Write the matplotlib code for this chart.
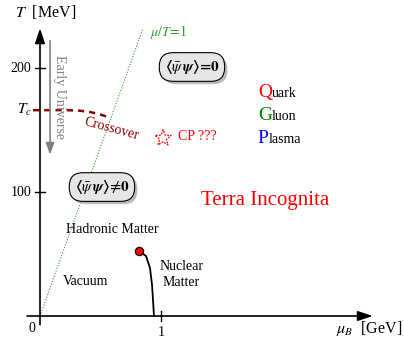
import matplotlib
matplotlib.use("Agg")
import matplotlib.pyplot as plt
import matplotlib.patheffects as pe
import numpy as np

plt.rcParams['font.family'] = ['Liberation Serif', 'DejaVu Serif']
plt.rcParams['mathtext.fontset'] = 'stix'

# Phase-diagram data (mu_B in GeV, T in MeV)
T_ticks = [100, 200]
mu_ticks = [0, 1]
Tc = 166
crossover_mu = [-0.058, 0.207, 0.31, 0.413, 0.49, 0.562]
crossover_T = [166, 166, 165.8, 164.5, 162.8, 160.5]
nuclear_mu = [0.818, 0.876, 0.909, 0.926, 0.934, 0.942]
nuclear_T = [52.4, 48.4, 38.7, 25.0, 12.9, 0.0]
endpoint = (0.818, 52.4)
cp_point = (1.017, 143.5)
muT_line_mu = [0.0, 0.851]
muT_line_T = [0.0, 232.0]

PX_X = 121.0   # pixels per GeV
PX_Y = 1.24    # pixels per MeV

fig = plt.figure(figsize=(4.04, 3.41), dpi=100)
ax = fig.add_axes([0, 0, 1, 1])
ax.set_xlim(-40 / PX_X, 364 / PX_X)
ax.set_ylim(-25 / PX_Y, 316 / PX_Y)
ax.axis('off')

# axes with arrows
ax.annotate('', xy=(2.75, 0), xytext=(-0.107, 0),
            arrowprops=dict(arrowstyle='-|>,head_length=0.9,head_width=0.3',
                            color='black', lw=1.2, shrinkA=0, shrinkB=0))
ax.annotate('', xy=(0, 232), xytext=(0, -7),
            arrowprops=dict(arrowstyle='-|>,head_length=0.9,head_width=0.3',
                            color='black', lw=1.2, shrinkA=0, shrinkB=0))

# ticks
for t in T_ticks:
    ax.plot([-0.04, 0.04], [t, t], color='black', lw=1)
    ax.text(-0.07, t, str(t), ha='right', va='center', fontsize=10)
ax.plot([1, 1], [-4, 4], color='black', lw=1)
ax.text(-0.04, -5, '0', ha='right', va='top', fontsize=10)
ax.text(1, -8, '1', ha='center', va='top', fontsize=10)

ax.text(-0.07, Tc, r'$T_c$', ha='right', va='center', fontsize=11)
ax.text(0.05, 245, r'$T$  [MeV]', ha='center', va='center', fontsize=11.5)
ax.text(2.72, -10, r'$\mu_B$  [GeV]', ha='center', va='center', fontsize=11.5)

# mu/T = 1 line
ax.plot(muT_line_mu, muT_line_T, color='#2ca02c', lw=0.8, ls=(0, (1, 1.5)))
ax.text(0.91, 229, r'$\mu/T\!=\!1$', color='#2ca02c', fontsize=10,
        ha='left', va='center')

# crossover
ax.plot(crossover_mu, crossover_T, color='#8b0000', lw=1.8, ls=(0, (2.5, 2)))
ax.text(0.59, 150.5, 'Crossover', color='#8b0000', fontsize=10,
        rotation=-15, ha='center', va='center')

# early universe arrow
ax.annotate('', xy=(0.083, 130), xytext=(0.083, 222),
            arrowprops=dict(arrowstyle='-|>,head_length=0.7,head_width=0.25',
                            color='gray', lw=1.2, shrinkA=0, shrinkB=0))
ax.text(0.165, 177, 'Early Universe', color='gray', fontsize=10,
        rotation=-90, ha='center', va='center')

# chiral condensate boxes with a drop shadow
def cond_box(x, y, s):
    t = ax.text(x, y, s, fontsize=11, ha='center', va='center',
                bbox=dict(boxstyle='round,pad=0.35,rounding_size=0.9',
                          fc='#e6e6e6', ec='black', lw=0.8))
    t.get_bbox_patch().set_path_effects([
        pe.SimplePatchShadow(offset=(2, -2), shadow_rgbFace='#aaaaaa',
                             alpha=0.8),
        pe.Normal()])

cond_box(1.256, 200.8, r'$\boldsymbol{\langle\bar{\psi}\,\psi\rangle\!=\!0}$')
cond_box(0.512, 104, r'$\boldsymbol{\langle\bar{\psi}\,\psi\rangle\!\neq\!0}$')

# critical point: dashed star outline around cp_point
r_out, r_in = 8.5, 3.6
ang = np.pi / 2 + np.arange(11) * np.pi / 5
rad = np.where(np.arange(11) % 2 == 0, r_out, r_in)
star_x = cp_point[0] + rad * np.cos(ang) / PX_X
star_y = cp_point[1] + rad * np.sin(ang) / PX_Y
ax.plot(star_x, star_y, color='red', lw=0.9, ls=(0, (1.5, 1)))
ax.text(cp_point[0] + 0.12, cp_point[1] + 1, 'CP ???', color='red',
        fontsize=10, ha='left', va='center')

# QGP letters
fig.canvas.draw()
renderer = fig.canvas.get_renderer()
qgp = [('Q', 'uark', 'red', 176.6), ('G', 'luon', 'green', 158.0),
       ('P', 'lasma', 'blue', 139.5)]
for big, rest, col, yv in qgp:
    t = ax.text(1.8, yv, big, color=col, fontsize=14, ha='left',
                va='baseline')
    bb = t.get_window_extent(renderer)
    x_end = ax.transData.inverted().transform((bb.x1, bb.y0))[0]
    ax.text(x_end, yv, rest, color='black', fontsize=10, ha='left',
            va='baseline')

ax.text(1.86, 93, 'Terra Incognita', color='red', fontsize=15,
        ha='center', va='center')
ax.text(0.595, 69.5, 'Hadronic Matter', fontsize=10, ha='center',
        va='center')
ax.text(0.38, 27.5, 'Vacuum', fontsize=10, ha='center', va='center')
ax.text(1.17, 33.5, 'Nuclear\nMatter', fontsize=10, ha='center',
        va='center', linespacing=1.3)

# nuclear liquid-gas line and its endpoint
ax.plot(nuclear_mu, nuclear_T, color='black', lw=1.3)
ax.plot(*endpoint, marker='o', ms=6, mfc='red', mec='black', mew=0.8)

fig.savefig('out.png', dpi=100)
